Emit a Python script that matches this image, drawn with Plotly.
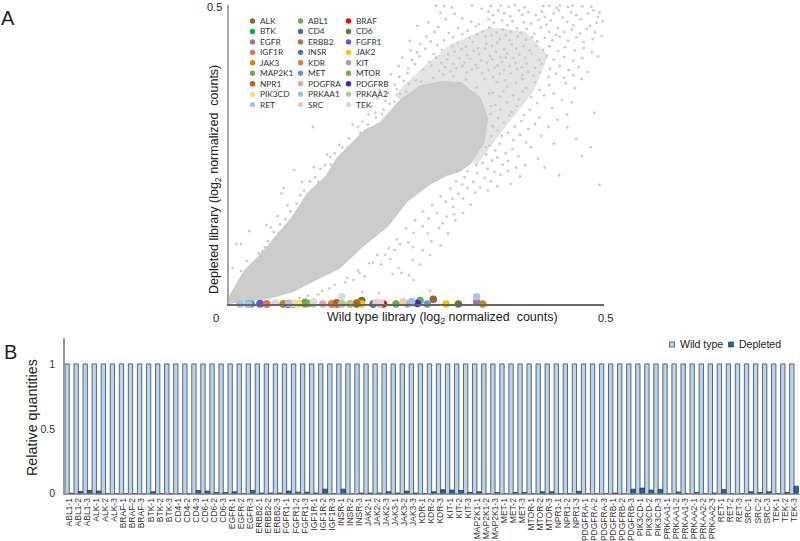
import plotly.graph_objects as go

GENES = ["ALK","ABL1","BRAF","BTK","CD4","CD6","EGFR","ERBB2","FGFR1","IGF1R","INSR","JAK2","JAK3","KDR","KIT",
         "MAP2K1","MET","MTOR","NPR1","PDGFRA","PDGFRB","PIK3CD","PRKAA1","PRKAA2","RET","SRC","TEK"]
GENE_COLORS = ["#A5612F","#70AD47","#FF0000","#00B050","#44709D","#548235","#A56EB4","#C96A2E","#6B4FE0","#E8704F",
               "#4472C4","#FFC000","#BF9000","#E0803F","#A5A5A5","#6AA84F","#5B9BD5","#70AD47","#C55A11","#F0A58E",
               "#3D1FE8","#FFD97F","#9DC3E6","#A9D18E","#B4C0E4","#F4C7BC","#D9D9D9"]
GENE_POINTS = {
 "ALK":[(.0502,0.0),(.2724,.008)],"ABL1":[(.1013,0.0),(.1702,0.0)],"BRAF":[(.2058,0.0),(.1436,0.0)],
 "BTK":[(.0858,0.0)],"CD4":[(.0258,0.0),(.1924,0.0)],"CD6":[(.1769,.006),(.3058,0.0)],
 "EGFR":[(.0414,0.0),(.3302,.003)],"ERBB2":[(.1370,0.0),(.0724,0.0)],"FGFR1":[(.0414,.001),(.0791,0.0)],
 "IGF1R":[(.0502,0.0),(.1613,0.0)],"INSR":[(.1924,0.0),(.0791,.001)],"JAK2":[(.0924,0.0),(.1769,0.0),(.2893,0.0)],
 "JAK3":[(.0724,0.0),(.1702,.002),(.3382,0.0)],"KDR":[(.1370,0.0),(.1436,.001)],"KIT":[(.1124,.002),(.1502,0.0),(.2380,0.0)],
 "MAP2K1":[(.1013,.003),(.2227,0.0)],"MET":[(.0300,0.0),(.2644,0.0)],"MTOR":[(.1060,.001),(.2547,.006)],
 "NPR1":[(.1436,.002),(.1700,0.0)],"PDGFRA":[(.1250,0.0),(.2013,0.0)],"PDGFRB":[(.0791,0.0),(.2511,.001)],
 "PIK3CD":[(.0858,.001),(.0924,.001)],"PRKAA1":[(.0147,0.0),(.0258,0.0),(.2436,.004)],"PRKAA2":[(.1124,0.0),(.1613,.0),(.1502,.001)],
 "RET":[(.0791,.001),(.3302,.012)],"SRC":[(.1960,.002),(.2324,.004)],"TEK":[(.0620,.002),(.1124,.004),(.1502,.012),(.2020,.002)],
}

# outline of the solid part of the wild type / depleted point cloud
CLOUD_X = [0.0,.021,.039,.061,.084,.105,.128,.145,.168,.181,.201,.228,.255,.285,.310,.335,.345,.340,.322,.308,
           .290,.268,.238,.212,.180,.148,.120,.086,.052,.0,0.0]
CLOUD_Y = [.012,.057,.079,.112,.145,.186,.212,.246,.274,.291,.303,.341,.365,.372,.370,.345,.310,.270,.235,.222,
           .215,.200,.172,.130,.098,.060,.043,.021,.009,.001,.012]
# outline of the part where points are still close together
MID_X = [.221,.255,.295,.348,.395,.425,.405,.380,.355,.330]
MID_Y = [.349,.391,.433,.462,.455,.415,.355,.315,.275,.232]

# individually visible points of the cloud, read by eye
SPARSE = [
 (.276,.499),(.287,.498),(.297,.496),(.324,.499),(.337,.494),(.349,.498),(.362,.499),(.373,.497),(.381,.500),(.394,.496),
 (.419,.498),(.427,.499),(.437,.495),(.441,.499),(.452,.497),(.458,.499),(.471,.498),(.483,.497),(.486,.491),(.494,.487),
 (.282,.487),(.301,.485),(.346,.489),(.352,.483),(.359,.491),(.367,.486),(.375,.481),(.387,.491),(.391,.484),(.399,.488),
 (.409,.483),(.417,.489),(.421,.480),(.433,.486),(.440,.491),(.445,.479),(.456,.488),(.463,.483),(.479,.486),(.492,.480),
 (.498,.473),(.266,.471),(.289,.476),(.311,.477),(.323,.472),(.333,.468),(.346,.476),(.353,.470),(.364,.474),(.371,.466),
 (.378,.473),(.384,.461),(.393,.471),(.403,.469),(.413,.475),(.423,.467),(.429,.474),(.438,.461),(.451,.472),(.459,.466),
 (.469,.476),(.481,.465),(.490,.470),(.279,.463),(.251,.465),(.306,.461),(.318,.457),(.329,.464),(.338,.456),(.347,.462),
 (.357,.454),(.365,.459),(.376,.455),(.389,.453),(.397,.460),(.407,.452),(.416,.462),(.427,.455),(.436,.450),(.447,.455),
 (.457,.459),(.468,.452),(.477,.460),(.488,.454),(.293,.453),(.274,.455),(.263,.447),(.299,.446),(.311,.451),(.321,.445),
 (.331,.451),(.342,.447),(.350,.449),(.361,.443),(.369,.449),(.374,.441),(.385,.447),(.396,.442),(.404,.446),(.411,.439),
 (.421,.445),(.431,.441),(.441,.447),(.452,.440),(.463,.446),(.473,.438),(.485,.443),(.497,.448),(.241,.440),(.255,.435),
 (.269,.439),(.278,.433),(.287,.441),(.298,.431),(.305,.437),(.316,.430),(.325,.438),(.332,.428),(.343,.435),(.351,.431),
 (.358,.437),(.367,.426),(.377,.434),(.383,.427),(.393,.431),(.401,.424),(.409,.432),(.419,.425),(.427,.431),(.439,.423),
 (.448,.429),(.461,.424),(.473,.428),(.484,.421),(.242,.424),(.251,.421),(.262,.427),(.273,.418),(.284,.425),(.292,.417),
 (.301,.422),(.310,.426),(.318,.416),(.326,.423),(.334,.418),(.341,.427),(.348,.415),(.356,.422),(.362,.413),(.371,.419),
 (.379,.411),(.387,.417),(.395,.412),(.404,.418),(.414,.408),(.424,.415),(.433,.409),(.447,.413),(.459,.407),(.471,.411),
 (.492,.414),(.231,.412),(.244,.408),(.254,.414),(.267,.405),(.276,.412),(.283,.403),(.291,.409),(.299,.401),
 (.307,.411),(.314,.404),(.322,.410),(.329,.400),(.336,.407),(.344,.403),(.351,.409),(.358,.399),(.364,.405),(.369,.412),
 (.374,.398),(.382,.403),(.390,.396),(.397,.402),(.408,.395),(.417,.401),(.428,.393),(.441,.398),(.453,.391),(.466,.396),
 (.478,.388),(.226,.398),(.239,.394),(.248,.401),(.259,.392),(.270,.399),(.280,.390),(.288,.396),(.296,.389),(.303,.394),
 (.311,.398),(.317,.387),(.324,.392),(.331,.395),(.338,.386),(.346,.391),(.354,.395),(.361,.385),(.367,.391),(.376,.386),
 (.384,.393),(.391,.383),(.399,.388),(.406,.382),(.415,.387),(.426,.380),(.436,.385),(.447,.378),(.459,.382),(.470,.376),
 (.216,.384),(.227,.380),(.238,.386),(.341,.376),(.352,.379),(.357,.371),(.368,.374),(.371,.363),(.383,.369),(.391,.376),
 (.396,.361),(.408,.371),(.414,.358),(.427,.366),(.433,.352),(.449,.369),(.461,.361),(.209,.371),(.221,.367),(.233,.373),
 # right-hand slope of the cloud
 (.352,.353),(.361,.347),(.366,.356),(.379,.349),(.386,.342),(.392,.355),(.403,.346),(.411,.336),(.420,.349),(.431,.328),
 (.444,.341),(.457,.337),(.201,.358),(.212,.353),(.224,.359),(.355,.333),(.362,.325),(.371,.337),(.377,.321),(.384,.331),
 (.393,.316),(.401,.325),(.414,.312),(.487,.320),(.349,.318),(.359,.311),(.367,.303),(.374,.315),(.381,.297),(.390,.306),
 (.399,.293),(.408,.301),(.351,.298),(.358,.290),(.364,.281),(.372,.286),(.379,.274),(.388,.283),(.396,.270),(.350,.281),
 (.347,.265),(.355,.257),(.361,.268),(.369,.252),(.378,.259),(.386,.247),(.343,.250),(.351,.240),(.358,.245),(.365,.233),
 (.372,.239),(.338,.236),(.345,.226),(.354,.221),(.362,.216),(.372,.222),(.383,.228),(.331,.219),(.341,.211),(.349,.205),
 (.358,.197),(.326,.204),(.335,.195),(.345,.190),(.318,.194),(.328,.186),(.312,.176),(.322,.166),(.306,.184),(.299,.162),
 (.426,.296),(.438,.308),(.451,.317),(.416,.281),(.433,.268),(.403,.262),(.412,.243),(.395,.232),(.451,.295),(.463,.276),
 (.388,.213),(.376,.201),(.421,.228),(.440,.215),(.494,.199),(.470,.247),(.482,.262),
 (.312,.152),(.290,.146),(.302,.140),(.280,.127),(.292,.118),(.270,.105),(.282,.098),
 (.258,.090),(.268,.082),(.245,.074),(.255,.066),(.230,.052),(.240,.048),(.218,.050),
 (.268,.022),(.246,.040),(.226,.060),(.178,.020),(.200,.018),(.215,.075),(.245,.095),(.265,.118),(.285,.135),(.300,.150),
 (.303,.205),(.295,.193),(.282,.180),(.271,.166),(.259,.155),(.248,.140),(.236,.126),(.224,.108),(.213,.093),(.198,.082),
 (.187,.068),(.172,.056),(.158,.044),(.141,.032),(.124,.022),(.105,.014),(.314,.212),(.298,.176),(.277,.152),(.258,.130),
 (.239,.103),(.221,.090),(.203,.066),(.181,.046),(.166,.040),(.134,.026),(.311,.200),(.289,.171),(.266,.143),(.246,.119),
 (.228,.100),(.208,.082),(.192,.069),(.174,.052),(.155,.036),(.119,.016),(.094,.010),(.318,.222),(.330,.232),(.343,.262),
 (.352,.296),(.349,.331),(.347,.352),(.330,.362),(.316,.375),(.299,.381),
 # upper-left fringe
 (.175,.286),(.160,.277),(.151,.262),(.165,.300),(.141,.252),(.128,.232),(.135,.246),(.115,.212),(.122,.226),(.100,.190),
 (.108,.205),(.090,.168),(.095,.182),(.075,.142),(.082,.155),(.060,.120),(.068,.133),(.048,.095),(.052,.105),(.034,.070),
 (.040,.085),(.085,.122),(.056,.128),(.024,.072),(.016,.055),(.112,.296),(.087,.224),(.073,.194),(.070,.185),(.050,.132),
 (.027,.122),(.016,.100),(.010,.100),(.005,.060),(.147,.266),(.131,.250),(.113,.229),(.097,.204),(.078,.165),(.065,.147),
 (.185,.300),(.195,.320),(.214,.335),(.228,.351),(.240,.368),(.256,.372),(.272,.378),(.286,.384),(.209,.340),(.198,.344),
 (.190,.331),(.206,.325),(.186,.317),(.178,.305),(.196,.312),(.172,.296),(.158,.262),(.136,.233),(.119,.204),(.103,.176),
 (.092,.158),(.079,.135),(.066,.119),(.045,.088),(.030,.066),(.012,.035),(.204,.318),(.221,.338),(.236,.355),(.249,.374),
]

def expand(g):
    return [f"{g}-{i}" for i in (1,2,3)]
BAR_GENES = sorted(GENES)
CATEGORIES = [c for g in BAR_GENES for c in expand(g)]
WILD_TYPE = [1]*81
DEPLETED = [.003,.018,.025,.020,0,0,0,0,0,.015,0,0,0,0,.025,.020,.010,.010,.015,0,.025,.005,.005,.005,
            .020,.012,.012,.005,.035,0,.035,0,.005,.005,.005,.015,.005,.020,.005,0,.015,.030,.028,.025,.010,
            .015,0,.010,0,.010,.010,0,.015,.015,0,0,.018,0,0,0,.005,0,.035,.043,.028,.033,0,.013,0,.010,0,.005,
            .032,0,0,.015,.010,.015,0,.010,.058]
BAR_LEGEND = ["Wild type", "Depleted"]
BAR_COLORS = ["#BDD3E8", "#2E6594"]

W, H = 800, 541
fig = go.Figure()
fig.add_trace(go.Scatter(x=MID_X, y=MID_Y, mode="lines", fill="toself", fillcolor="#E4E4E4",
                         line=dict(color="#E4E4E4", width=1), xaxis="x", yaxis="y", showlegend=False, hoverinfo="skip"))
fig.add_trace(go.Scatter(x=CLOUD_X, y=CLOUD_Y, mode="lines", fill="toself", fillcolor="#CCCCCC",
                         line=dict(color="#CCCCCC", width=1), xaxis="x", yaxis="y", showlegend=False, hoverinfo="skip"))
sx, sy = zip(*SPARSE)
fig.add_trace(go.Scatter(x=sx, y=sy, mode="markers", marker=dict(color="#CCCCCC", size=2.8), xaxis="x", yaxis="y",
                         showlegend=False, cliponaxis=False))
for g, c in zip(GENES, GENE_COLORS):
    pts = GENE_POINTS[g]
    fig.add_trace(go.Scatter(x=[p[0] for p in pts], y=[p[1] for p in pts], mode="markers", name=g,
                             marker=dict(color=c, size=7.5), xaxis="x", yaxis="y", showlegend=False, cliponaxis=False))

fig.add_trace(go.Bar(x=CATEGORIES, y=WILD_TYPE, name=BAR_LEGEND[0], xaxis="x2", yaxis="y2", showlegend=False,
                     marker=dict(color=BAR_COLORS[0], line=dict(color="#2A4A6E", width=0.8))))
fig.add_trace(go.Bar(x=CATEGORIES, y=DEPLETED, name=BAR_LEGEND[1], xaxis="x2", yaxis="y2", showlegend=False,
                     marker=dict(color=BAR_COLORS[1], line=dict(color="#1F3A5F", width=0.8))))

fig.update_layout(
    width=W, height=H, margin=dict(l=0, r=0, t=0, b=0), paper_bgcolor="white", plot_bgcolor="white",
    barmode="group", bargap=0.04, bargroupgap=0, showlegend=False,
    font=dict(family="Liberation Sans", color="#222"),
    xaxis=dict(domain=[229/W, 604/W], range=[0, .5], showgrid=False, zeroline=False, showticklabels=False, automargin=False,
               showline=True, linecolor="#666666", linewidth=1.5, ticks=""),
    yaxis=dict(domain=[1-304/H, 1-5/H], range=[0, .5], showgrid=False, zeroline=False, showticklabels=False, automargin=False,
               showline=True, linecolor="#A6A6A6", linewidth=2, ticks=""),
    xaxis2=dict(domain=[65/W, 1.0], range=[-.47, 80.66], type="category", categoryorder="array", categoryarray=CATEGORIES,
                anchor="y2", showgrid=False, zeroline=False, showline=True, linecolor="#999999", linewidth=1, automargin=False,
                tickangle=-90, tickfont=dict(size=8.5, color="#333"), ticks="", dtick=1, tickmode="linear"),
    yaxis2=dict(domain=[1-493.7/H, 1-338/H], range=[0, 1.2], anchor="x2", showgrid=False, zeroline=False, showline=True,
                linecolor="#999999", linewidth=1.5, tickvals=[0,.5,1], ticktext=["0","0.5","1"], automargin=False,
                tickfont=dict(size=10.5, color="#333"), ticks="", ticklabelstandoff=6),
)

ann = []
def text(x, y, s, size, color="#222", angle=0, xanchor="center", family="Liberation Sans"):
    ann.append(dict(x=x/W, y=1-y/H, xref="paper", yref="paper", text=s, showarrow=False, textangle=angle, xanchor=xanchor,
                    yanchor="middle", font=dict(size=size, color=color, family=family)))
text(8, 18, "A", 20)
text(10, 352, "B", 20)
text(216, 318, "0", 11)
text(605, 318, "0.5", 11)
text(214, 7, "0.5", 11)
text(442, 318, "Wild type library (log<sub>2</sub> normalized  counts)", 12.5)
text(215, 180, "Depleted library (log<sub>2</sub> normalized  counts)", 12.5, angle=-90)
text(32, 418, "Relative quantities", 14.3, angle=-90)
shapes = []
for idx, (g, c) in enumerate(zip(GENES, GENE_COLORS)):
    col, row = idx % 3, idx // 3
    px = 252.5 + col*48
    py = 21 + row*10.45
    shapes.append(dict(type="circle", xref="paper", yref="paper", x0=(px-2.7)/W, x1=(px+2.7)/W,
                       y0=1-(py+2.7)/H, y1=1-(py-2.7)/H, fillcolor=c, line=dict(width=0)))
    text(px+5.5, py, g, 8.3, color="#333", xanchor="left", family="Lato")
for lx, tx, s, c in zip((672, 731), (678, 737), BAR_LEGEND, BAR_COLORS):
    shapes.append(dict(type="rect", xref="paper", yref="paper", x0=(lx-2.5)/W, x1=(lx+2.5)/W, y0=1-347/H, y1=1-342/H,
                       fillcolor=c, line=dict(color="#1F3A5F", width=0.7)))
    text(tx, 344, s, 10.5, xanchor="left")
fig.update_layout(annotations=ann, shapes=shapes)
fig.write_html("out.html", post_script="document.body.style.margin='0';", config=dict(displayModeBar=False))
